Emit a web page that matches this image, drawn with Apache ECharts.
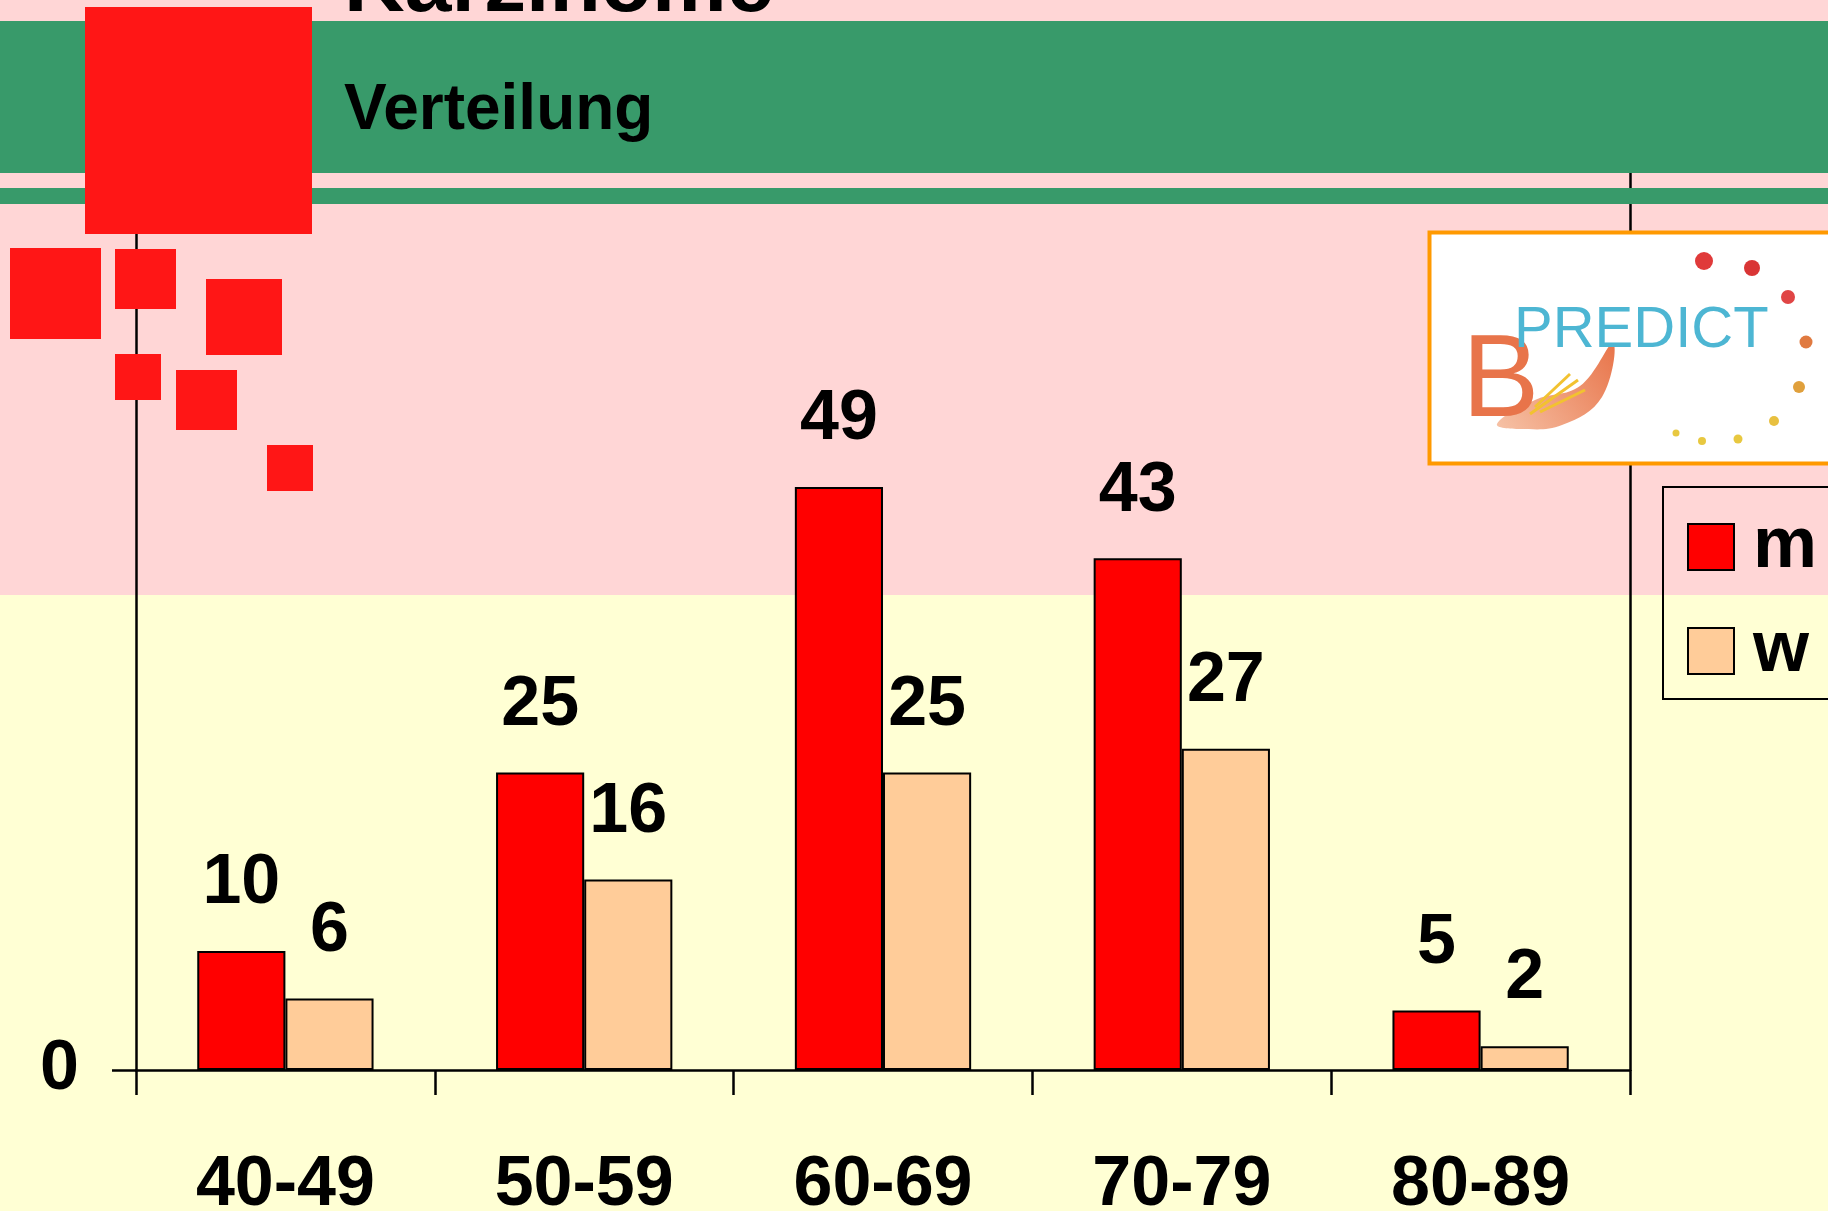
<!DOCTYPE html>
<html>
<head>
<meta charset="utf-8">
<script src="https://cdn.jsdelivr.net/npm/echarts@6/dist/echarts.min.js"></script>
<style>
  html, body { margin: 0; padding: 0; }
  #chart { width: 1828px; height: 1211px; }
</style>
</head>
<body>
<div id="chart"></div>
<script>
const categories = ['40-49', '50-59', '60-69', '70-79', '80-89']
const menValues = [10, 25, 49, 43, 5]
const womenValues = [6, 16, 25, 27, 2]
const seriesNames = ['m', 'w']

const fontFamily = '"Liberation Sans", Arial, sans-serif'
const bandGreen = '#389A6A'
const squareRed = '#FF1616'

const chart = echarts.init(document.getElementById('chart'))

// decorative squares top-left
const squares = [
  [85, 7, 227, 227],
  [10, 248, 91, 91],
  [115, 249, 61, 60],
  [206, 279, 76, 76],
  [115, 354, 46, 46],
  [176, 370, 61, 60],
  [267, 445, 46, 46]
]

// dots round the logo
const dots = [
  [1704, 261, 9, '#E03A3A'],
  [1752, 268, 8, '#D93535'],
  [1788, 297, 7, '#E04545'],
  [1806, 342, 6.5, '#E07A40'],
  [1799, 387, 6, '#E0A03C'],
  [1774, 421, 5, '#E8C040'],
  [1738, 439, 4.5, '#E8C840'],
  [1702, 441, 4, '#E8C840'],
  [1676, 433, 3.5, '#E8C840']
]

const graphics = [
  { type: 'rect', z: -10, shape: { x: 0, y: 0, width: 1828, height: 595 }, style: { fill: '#FFD6D6' } },
  { type: 'rect', z: 100, shape: { x: 0, y: 21, width: 1828, height: 152 }, style: { fill: bandGreen } },
  { type: 'rect', z: 100, shape: { x: 0, y: 188, width: 1828, height: 16 }, style: { fill: bandGreen } },
  {
    type: 'text', z: 102, x: 344, y: -12,
    style: { text: 'Karzinome', font: 'bold 84px ' + fontFamily, fill: '#000', verticalAlign: 'middle' }
  },
  {
    type: 'text', z: 102, x: 344, y: 111,
    style: { text: 'Verteilung', font: 'bold 64px ' + fontFamily, fill: '#000', verticalAlign: 'middle' }
  },
  ...squares.map(([x, y, w, h]) => ({
    type: 'rect', z: 101, shape: { x, y, width: w, height: h }, style: { fill: squareRed }
  })),
  // logo box
  {
    type: 'rect', z: 100, shape: { x: 1429.5, y: 232.5, width: 420, height: 231 },
    style: { fill: '#FFFFFF', stroke: '#FF9900', lineWidth: 4 }
  },
  {
    type: 'polygon', z: 101,
    shape: {
      smooth: 0.4,
      points: [[1497, 424], [1535, 400], [1580, 386], [1613, 343], [1602, 397], [1562, 425], [1520, 429]]
    },
    style: {
      fill: new echarts.graphic.LinearGradient(0, 1, 1, 0, [
        { offset: 0, color: '#F6C2A6' },
        { offset: 1, color: '#E8744A' }
      ])
    }
  },
  { type: 'line', z: 102, shape: { x1: 1530, y1: 414, x2: 1578, y2: 380 }, style: { stroke: '#F2C230', lineWidth: 3 } },
  { type: 'line', z: 102, shape: { x1: 1540, y1: 412, x2: 1585, y2: 390 }, style: { stroke: '#F2C230', lineWidth: 3 } },
  { type: 'line', z: 102, shape: { x1: 1535, y1: 407, x2: 1570, y2: 374 }, style: { stroke: '#F2C230', lineWidth: 3 } },
  {
    type: 'text', z: 102, x: 1462, y: 384,
    style: { text: 'B', font: '116px ' + fontFamily, fill: '#E8744A', verticalAlign: 'middle' }
  },
  {
    type: 'text', z: 102, x: 1514, y: 331,
    style: { text: 'PREDICT', font: '58px ' + fontFamily, fill: '#4DB6D3', verticalAlign: 'middle' }
  },
  ...dots.map(([cx, cy, r, c]) => ({
    type: 'circle', z: 102, shape: { cx, cy, r }, style: { fill: c }
  }))
]

const labelStyle = {
  show: true,
  position: 'top',
  distance: 32,
  color: '#000',
  fontFamily,
  fontWeight: 'bold',
  fontSize: 70
}

chart.setOption({
  backgroundColor: '#FFFFD4',
  animation: false,
  graphic: graphics,
  grid: { left: 136, right: 198, top: 118, bottom: 141, outerBoundsMode: 'none', containLabel: false },
  legend: {
    orient: 'vertical',
    left: 1663,
    top: 487,
    padding: [24, 80, 12, 24],
    itemWidth: 46,
    itemHeight: 46,
    itemGap: 32,
    icon: 'rect',
    borderColor: '#000',
    borderWidth: 2,
    data: seriesNames,
    textStyle: {
      color: '#000',
      fontFamily,
      fontWeight: 'bold',
      fontSize: 72,
      lineHeight: 72,
      padding: [0, 0, 0, 14]
    }
  },
  xAxis: {
    type: 'category',
    data: categories,
    boundaryGap: true,
    axisLine: { lineStyle: { color: '#000', width: 2.5 } },
    axisTick: { show: true, length: 25, lineStyle: { color: '#000', width: 2.5 } },
    axisLabel: {
      color: '#000',
      fontFamily,
      fontWeight: 'bold',
      fontSize: 70,
      margin: 81
    }
  },
  yAxis: [
    {
      type: 'value',
      min: 0,
      max: 80,
      interval: 80,
      axisLine: { show: true, lineStyle: { color: '#000', width: 2.5 } },
      axisTick: { show: true, length: 24, lineStyle: { color: '#000', width: 2.5 } },
      splitLine: { show: false },
      axisLabel: {
        color: '#000',
        fontFamily,
        fontWeight: 'bold',
        fontSize: 70,
        margin: 57,
        padding: [12, 0, 0, 0],
        formatter: (v) => (v === 0 ? '0' : '')
      }
    },
    {
      type: 'value',
      position: 'right',
      min: 0,
      max: 80,
      interval: 80,
      axisLine: { show: true, lineStyle: { color: '#000', width: 2.5 } },
      axisTick: { show: false },
      axisLabel: { show: false },
      splitLine: { show: false }
    }
  ],
  series: [
    {
      name: seriesNames[0],
      type: 'bar',
      yAxisIndex: 0,
      barGap: '0%',
      barCategoryGap: '41%',
      itemStyle: { color: '#FF0000', borderColor: '#000', borderWidth: 2 },
      label: labelStyle,
      data: menValues
    },
    {
      name: seriesNames[1],
      type: 'bar',
      yAxisIndex: 0,
      itemStyle: { color: '#FFCC99', borderColor: '#000', borderWidth: 2 },
      label: labelStyle,
      data: womenValues
    }
  ]
})
</script>
</body>
</html>
